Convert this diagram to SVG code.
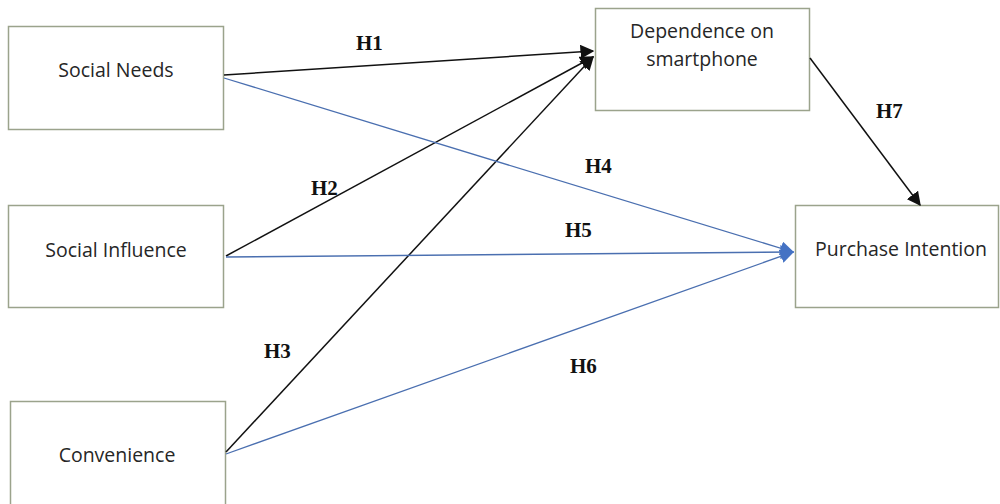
<svg xmlns="http://www.w3.org/2000/svg" width="1000" height="504" viewBox="0 0 1000 504">
<defs>
<style>
.box{fill:#ffffff;stroke:#9ba38c;stroke-width:1.5}
.nt{font-family:"Open Sans","Liberation Sans",sans-serif;font-size:19.5px;fill:#262626;text-anchor:middle}
.lb{font-family:"Liberation Serif","Times New Roman",serif;font-size:21px;font-weight:bold;fill:#111}
.blk{stroke:#111;stroke-width:1.5;fill:none}
.blu{stroke:#4a6fb0;stroke-width:1.3;fill:none}
</style>
<marker id="ab" viewBox="0 0 10 10" refX="9" refY="5" markerWidth="14" markerHeight="14" markerUnits="userSpaceOnUse" orient="auto"><path d="M0,0 L10,5 L0,10 z" fill="#111"/></marker>
<marker id="au" viewBox="0 0 10 10" refX="9" refY="5" markerWidth="14" markerHeight="14" markerUnits="userSpaceOnUse" orient="auto"><path d="M0,0 L10,5 L0,10 z" fill="#4472c4"/></marker>
</defs>
<rect width="1000" height="504" fill="#ffffff"/>
<g id="n-social-needs"><rect class="box" x="8.5" y="26.5" width="215" height="103"/><text class="nt" x="116" y="77">Social Needs</text></g>
<g id="n-social-influence"><rect class="box" x="8.5" y="205.5" width="215" height="102"/><text class="nt" x="116" y="257">Social Influence</text></g>
<g id="n-convenience"><rect class="box" x="10.5" y="401.5" width="215" height="110"/><text class="nt" x="117" y="462">Convenience</text></g>
<g id="n-dependence"><rect class="box" x="595.5" y="8.5" width="214" height="102"/><text class="nt" x="702" y="38">Dependence on</text><text class="nt" x="702" y="66">smartphone</text></g>
<g id="n-purchase"><rect class="box" x="795.5" y="205.5" width="203" height="102"/><text class="nt" x="901" y="256">Purchase Intention</text></g>
<g id="connectors">
<line class="blk" x1="224" y1="75" x2="593" y2="51" marker-end="url(#ab)"/>
<line class="blk" x1="226" y1="256" x2="593" y2="57" marker-end="url(#ab)"/>
<line class="blk" x1="226" y1="452" x2="593" y2="57" marker-end="url(#ab)"/>
<line class="blu" x1="224" y1="78" x2="793" y2="252" marker-end="url(#au)"/>
<line class="blu" x1="226" y1="257" x2="793" y2="252" marker-end="url(#au)"/>
<line class="blu" x1="226" y1="454" x2="793" y2="252" marker-end="url(#au)"/>
<line class="blk" x1="810" y1="58" x2="920" y2="205" marker-end="url(#ab)"/>
</g>
<g id="labels">
<text class="lb" x="356" y="50">H1</text>
<text class="lb" x="311" y="195">H2</text>
<text class="lb" x="264" y="358">H3</text>
<text class="lb" x="585" y="173">H4</text>
<text class="lb" x="565" y="237">H5</text>
<text class="lb" x="570" y="373">H6</text>
<text class="lb" x="876" y="118">H7</text>
</g>
</svg>
